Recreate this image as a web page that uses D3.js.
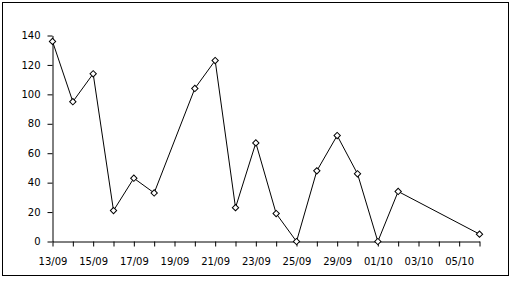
<!DOCTYPE html>
<html>
<head>
<meta charset="utf-8">
<script src="https://cdn.jsdelivr.net/npm/d3@7/dist/d3.min.js"></script>
<style>
  html, body { margin: 0; padding: 0; background: #fff; }
  svg { display: block; }
  text { font-family: "DejaVu Sans", Verdana, sans-serif; font-size: 10px; fill: #000; }
</style>
</head>
<body>
<svg id="chart" width="515" height="281"></svg>
<script>
const categories = ["13/09","14/09","15/09","16/09","17/09","18/09","19/09","20/09","21/09","22/09","23/09","24/09","25/09","27/09","29/09","30/09","01/10","02/10","03/10","04/10","05/10","06/10"];
const values = [136, 95, 114, 21, 43, 33, null, 104, 123, 23, 67, 19, 0, 48, 72, 46, 0, 34, null, null, null, 5];
const yTicks = [0, 20, 40, 60, 80, 100, 120, 140];

const svg = d3.select("#chart");

svg.append("rect")
  .attr("x", 2.5).attr("y", 2.5)
  .attr("width", 506).attr("height", 273)
  .attr("fill", "#fff").attr("stroke", "#000").attr("stroke-width", 1);

const x = d3.scalePoint().domain(categories).range([52, 479]);
const y = d3.scaleLinear().domain([0, 140]).range([241, 35]);

const yAxis = d3.axisLeft(y).tickValues(yTicks).tickSize(5).tickSizeOuter(0).tickPadding(7);
const gy = svg.append("g").attr("transform", "translate(52.5,0.5)").call(yAxis);

const xAxis = d3.axisBottom(x).tickSize(5).tickSizeOuter(0).tickPadding(11)
  .tickFormat((d, i) => (i % 2 === 0 ? d : ""));
const gx = svg.append("g").attr("transform", "translate(0.5,241.5)").call(xAxis);

[gx, gy].forEach(g => {
  g.selectAll("path.domain").attr("stroke", "#000").attr("stroke-width", 1);
  g.selectAll(".tick line").attr("stroke", "#000").attr("stroke-width", 1);
  g.selectAll("text").attr("fill", "#000")
    .style("font-family", '"DejaVu Sans", Verdana, sans-serif').style("font-size", "10px");
});

const pts = categories.map((c, i) => ({ c, v: values[i] })).filter(d => d.v !== null);

const line = d3.line().x(d => x(d.c) + 0.5).y(d => y(d.v) + 0.5);
svg.append("path").datum(pts)
  .attr("d", line).attr("fill", "none").attr("stroke", "#000").attr("stroke-width", 1);

svg.append("g").selectAll("path.m").data(pts).join("path")
  .attr("class", "m")
  .attr("d", d3.symbol().type(d3.symbolSquare).size(20))
  .attr("transform", d => `translate(${x(d.c) + 0.5},${y(d.v) + 0.5}) rotate(45)`)
  .attr("fill", "#fff").attr("stroke", "#000").attr("stroke-width", 1);
</script>
</body>
</html>
